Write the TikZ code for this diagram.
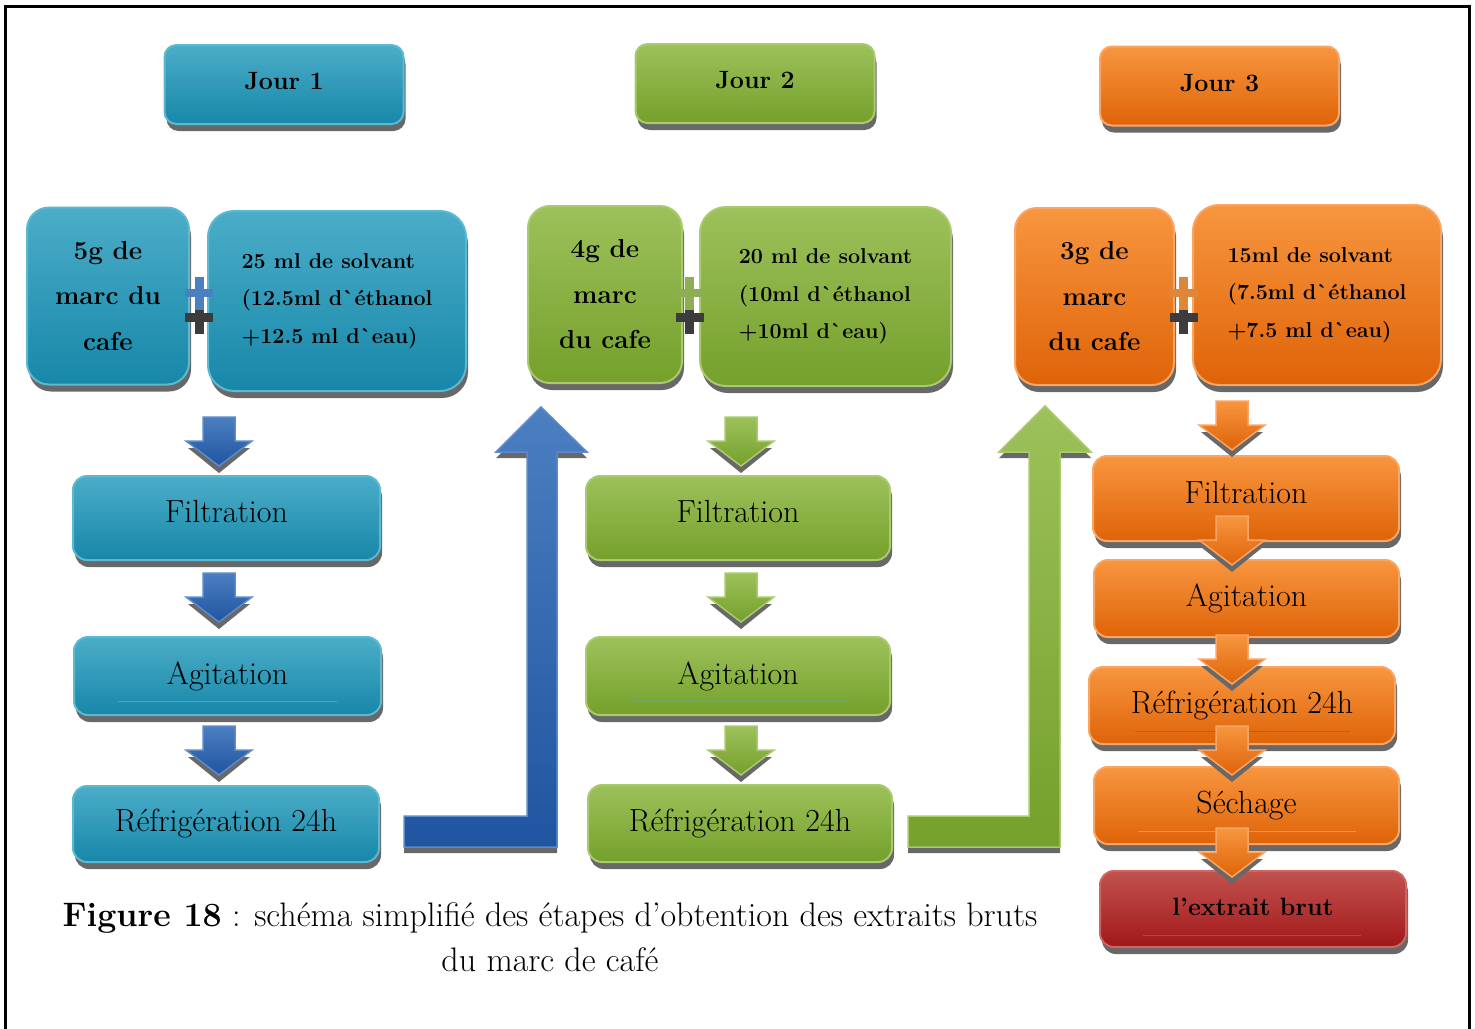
\documentclass[tikz,border=0pt]{standalone}
\usetikzlibrary{shadows}

\definecolor{tealA}{HTML}{4BADC8}
\definecolor{tealB}{HTML}{1787A9}
\definecolor{tealC}{HTML}{5DB9D2}
\definecolor{greenA}{HTML}{9DC15B}
\definecolor{greenB}{HTML}{74A02B}
\definecolor{greenC}{HTML}{A9CA6E}
\definecolor{orangeA}{HTML}{F7963F}
\definecolor{orangeB}{HTML}{DF6308}
\definecolor{orangeC}{HTML}{FAA564}
\definecolor{redA}{HTML}{C2524F}
\definecolor{redB}{HTML}{A11818}
\definecolor{redC}{HTML}{CC6663}
\definecolor{blueA}{HTML}{4C7FC0}
\definecolor{blueB}{HTML}{1F55A1}
\definecolor{blueC}{HTML}{5C8ACB}
\definecolor{shadowgrey}{HTML}{686868}
\definecolor{plusshadow}{HTML}{3C3C3C}

\tikzset{every picture/.style={line width=0.75pt}}
\tikzset{
  box/.style={draw=#1C, line width=2pt, top color=#1A, bottom color=#1B,
    drop shadow={shadow xshift=2pt, shadow yshift=-7pt, fill=shadowgrey, opacity=1}},
  daybox/.style={box=#1, rounded corners=12pt, minimum width=239pt, minimum height=79pt,
    text height=17pt, text depth=7pt, font=\bfseries\fontsize{25}{30}\selectfont},
  marcbox/.style={box=#1, rounded corners=22pt, minimum height=177pt, align=center,
    font=\bfseries\fontsize{26}{45.5}\selectfont},
  solvbox/.style={box=#1, rounded corners=26pt, minimum height=180pt, align=left,
    font=\bfseries\fontsize{21.5}{37.5}\selectfont},
  stepbox/.style={box=#1, rounded corners=14pt, minimum width=306pt, minimum height=78pt,
    font=\fontsize{32}{38}\selectfont},
  raised/.style={text height=22pt, text depth=13pt},
  faintline/.style={line width=1pt, draw=#1, opacity=0.6},
  caption/.style={align=center, font=\fontsize{34}{45}\selectfont},
  % pics keep their own upward y axis
  pics/downarr/.style={code={
    \fill[shadowgrey] (-16,-7) -- (16,-7) -- (16,-31) -- (31,-31) -- (0,-56) -- (-31,-31) -- (-16,-31) -- cycle;
    \shade[top color=#1A, bottom color=#1B, draw=#1C, line width=1.5pt] (-16,0) -- (16,0) -- (16,-24) -- (33,-24) -- (0,-49) -- (-33,-24) -- (-16,-24) -- cycle;
  }},
  pics/plussign/.style={code={
    \fill[plusshadow] (-4.5,-7) rectangle (4.5,-41);
    \fill[plusshadow] (-14,-20) rectangle (14,-29);
    \fill[#1] (-4.5,16) rectangle (4.5,-17);
    \fill[#1] (-14,4) rectangle (14,-4);
  }}
}

\begin{document}
\begin{tikzpicture}[x=1pt,y=1pt,yscale=-1,xscale=1]
\useasboundingbox (0,0) rectangle (1475,1028);

%Shape: Frame
\draw[line width=3pt] (5.5,1040) -- (5.5,6.5) -- (1469.5,6.5) -- (1469.5,1040);

%Shape: Rounded Rectangles -- day headers
\node[daybox=teal] (j1) at (284,84.5) {Jour 1};
\node[daybox=green] (j2) at (755,83.5) {Jour 2};
\node[daybox=orange] (j3) at (1219.5,86) {Jour 3};

%Shape: Rounded Rectangles -- day 1
\node[marcbox=teal, minimum width=162pt] (m1) at (108,296) {5g de\\marc du\\cafe};
\node[solvbox=teal, minimum width=258pt] (s1) at (337,301) {25 ml de solvant\\(12.5ml d\textasciigrave éthanol\\+12.5 ml d\textasciigrave eau)};
\pic (p1) at (199,293) {plussign=blueA};
\node[stepbox=teal, raised, minimum width=307pt, minimum height=84pt] (f1) at (226.5,518) {Filtration};
\node[stepbox=teal, minimum width=307pt] (a1) at (227.5,676) {Agitation};
\node[stepbox=teal, minimum height=76pt] (r1) at (226,824) {Réfrigération 24h};
\draw[faintline=tealC] (118,701) -- (337,701);
%Arrows: day 1
\pic (d11) at (219,417) {downarr=blue};
\pic (d12) at (219,573) {downarr=blue};
\pic (d13) at (219,726) {downarr=blue};

%Shape: Up Arrow day 1 -> day 2
\fill[shadowgrey, shift={(0,6)}] (404,816) -- (527,816) -- (527,452) -- (496,452) -- (541,407) -- (587,452) -- (557,452) -- (557,847) -- (404,847) -- cycle;
\shade[top color=blueA, bottom color=blueB, draw=blueC, line width=1.5pt] (404,816) -- (527,816) -- (527,452) -- (496,452) -- (541,407) -- (587,452) -- (557,452) -- (557,847) -- (404,847) -- cycle;

%Shape: Rounded Rectangles -- day 2
\node[marcbox=green, minimum width=154pt] (m2) at (605,294.5) {4g de\\marc\\du cafe};
\node[solvbox=green, minimum width=251pt, minimum height=179pt] (s2) at (825.5,296.5) {20 ml de solvant\\(10ml d\textasciigrave éthanol\\+10ml d\textasciigrave eau)};
\pic (p2) at (689.5,293) {plussign=greenA!90!black};
\node[stepbox=green, raised, minimum width=304pt, minimum height=84pt] (f2) at (738,518) {Filtration};
\node[stepbox=green, minimum width=304pt] (a2) at (738,676) {Agitation};
\node[stepbox=green, minimum width=304pt, minimum height=77pt] (r2) at (740,823.5) {Réfrigération 24h};
\draw[faintline=tealC!50!greenB] (630,700) -- (847,700);
%Arrows: day 2
\pic (d21) at (741,417) {downarr=green};
\pic (d22) at (741,573) {downarr=green};
\pic (d23) at (741,726) {downarr=green};

%Shape: Up Arrow day 2 -> day 3
\fill[shadowgrey, shift={(0,6)}] (908,816) -- (1029,816) -- (1029,452) -- (999,452) -- (1045,406) -- (1091,452) -- (1060,452) -- (1060,847) -- (908,847) -- cycle;
\shade[top color=greenA, bottom color=greenB, draw=greenC, line width=1.5pt] (908,816) -- (1029,816) -- (1029,452) -- (999,452) -- (1045,406) -- (1091,452) -- (1060,452) -- (1060,847) -- (908,847) -- cycle;

%Shape: Rounded Rectangles -- day 3
\node[marcbox=orange, minimum width=159pt] (m3) at (1094.5,296.5) {3g de\\marc\\du cafe};
\node[solvbox=orange, minimum width=248pt] (s3) at (1317,295) {15ml de solvant\\(7.5ml d\textasciigrave éthanol\\+7.5 ml d\textasciigrave eau)};
\pic (p3) at (1183.5,293) {plussign=orangeA!90!black};
\node[stepbox=orange, raised, minimum height=85pt] (f3) at (1246,498.5) {Filtration};
\node[stepbox=orange, minimum width=305pt, minimum height=77pt] (a3) at (1246.5,598.5) {Agitation};
\node[stepbox=orange, minimum height=77pt] (r3) at (1242,705.5) {Réfrigération 24h};
\node[stepbox=orange, minimum width=305pt, minimum height=77pt] (d3) at (1246.5,805.5) {Séchage};
\node[stepbox=red, minimum height=76pt, text height=17pt, text depth=4pt, font=\bfseries\fontsize{25}{30}\selectfont] (e3) at (1253,909) {l’extrait brut};
\draw[faintline=shadowgrey] (1135,731) -- (1350,731);
\draw[faintline=tealC!70!white] (1138,831) -- (1356,831);
\draw[faintline=redC!70!shadowgrey] (1143,935) -- (1361,935);
%Arrows: day 3
\pic (d31) at (1232,401) {downarr=orange};
\pic (d32) at (1232,516) {downarr=orange};
\pic (d33) at (1232,635) {downarr=orange};
\pic (d34) at (1232,726) {downarr=orange};
\pic (d35) at (1232,828) {downarr=orange};

% Text Node
\node[caption] (cap) at (550,937) {\textbf{Figure 18} : schéma simplifié des étapes d’obtention des extraits bruts\\du marc de café};

\end{tikzpicture}
\end{document}
